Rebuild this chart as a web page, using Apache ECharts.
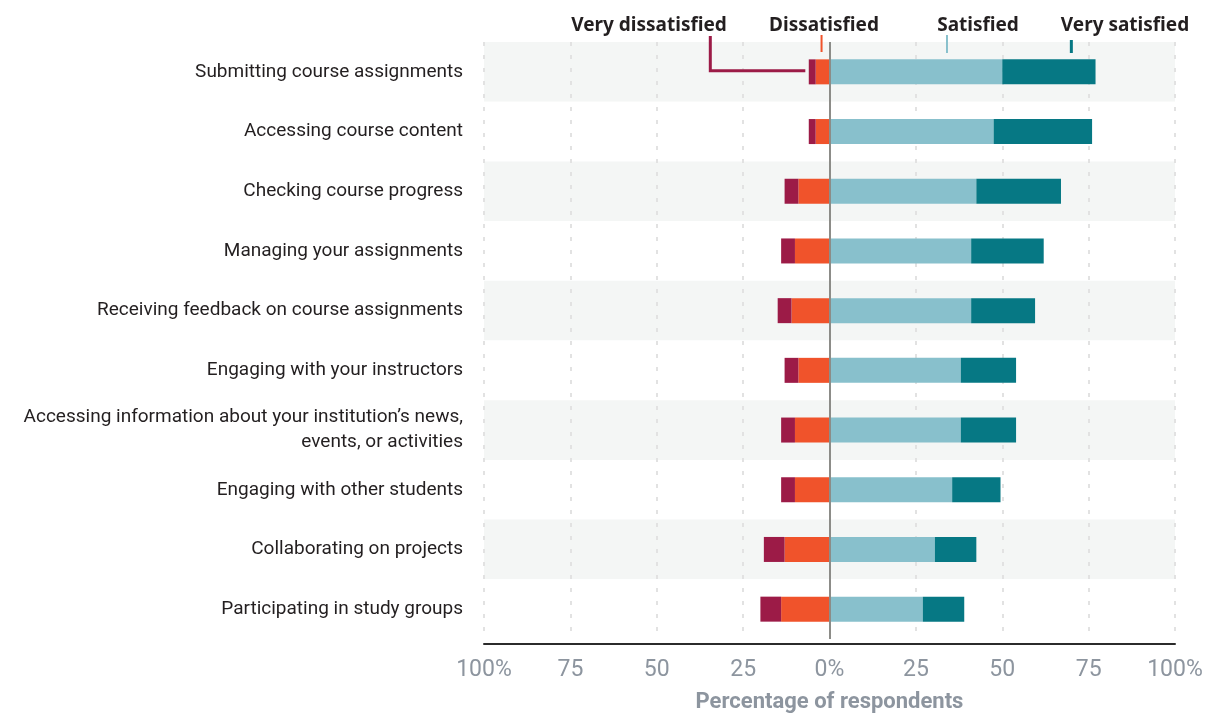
<!DOCTYPE html>
<html>
<head>
<meta charset="utf-8">
<script src="https://cdn.jsdelivr.net/npm/echarts@6/dist/echarts.min.js"></script>
<style>
  html, body { margin: 0; padding: 0; background: #fff; }
  #main { width: 1220px; height: 714px; }
</style>
</head>
<body>
<div id="main"></div>
<script>
'use strict'

// categories, top to bottom
const activities = [
  'Submitting course assignments',
  'Accessing course content',
  'Checking course progress',
  'Managing your assignments',
  'Receiving feedback on course assignments',
  'Engaging with your instructors',
  'Accessing information about your institution\u2019s news,\nevents, or activities',
  'Engaging with other students',
  'Collaborating on projects',
  'Participating in study groups'
];

// percentages
const veryDissatisfied = [2, 2, 4, 4, 4, 4, 4, 4, 6, 6];
const dissatisfied     = [4, 4, 9, 10, 11, 9, 10, 10, 13, 14];
const satisfied        = [50, 47.5, 42.5, 41, 41, 38, 38, 35.5, 30.5, 27];
const verySatisfied    = [27, 28.5, 24.5, 21, 18.5, 16, 16, 14, 12, 12];

const xTicks = [-100, -75, -50, -25, 0, 25, 50, 75, 100];

// legend names and where their labels sit
const legendNames = ['Very dissatisfied', 'Dissatisfied', 'Satisfied', 'Very satisfied'];
const legendCenters = [649, 824, 978, 1125];

const colors = {
  veryDissatisfied: '#9c1b47',
  dissatisfied: '#f0532b',
  satisfied: '#88c0cc',
  verySatisfied: '#067884'
};

const labelFont = 'Roboto, "Noto Sans", sans-serif';

var myChart = echarts.init(document.getElementById('main'));

function negate(arr) {
  return arr.map(v => -v);
}

function barSeries(name, data, color) {
  return {
    name: name,
    type: 'bar',
    stack: 'total',
    barWidth: 25,
    data: data,
    itemStyle: { color: color },
    silent: true
  };
}

var option = {
  animation: false,
  backgroundColor: '#ffffff',
  grid: {
    left: 484,
    right: 45,
    top: 42,
    bottom: 75,
    containLabel: false,
    outerBoundsMode: 'none'
  },
  xAxis: {
    type: 'value',
    min: -100,
    max: 100,
    interval: 25,
    offset: 5,
    axisLine: { show: true, lineStyle: { color: '#2b2b2b', width: 2 } },
    axisTick: { show: false },
    splitLine: {
      show: true,
      lineStyle: { color: '#e2e2e2', width: 2, type: [4, 9] }
    },
    axisLabel: {
      margin: 15,
      fontSize: 23,
      color: '#8d959f',
      fontFamily: labelFont,
      formatter: function (v) {
        if (xTicks.indexOf(v) < 0) return '';
        let a = Math.abs(v);
        return (a === 0 || a === 100) ? a + '%' : String(a);
      }
    },
    name: 'Percentage of respondents',
    nameLocation: 'middle',
    nameGap: 47,
    nameTextStyle: {
      fontSize: 22,
      fontWeight: 'bold',
      color: '#8d959f',
      fontFamily: labelFont
    }
  },
  yAxis: {
    type: 'category',
    inverse: true,
    data: activities,
    axisLine: { show: false },
    axisTick: { show: false },
    splitArea: {
      show: true,
      areaStyle: { color: ['#f4f6f5', '#ffffff'] }
    },
    axisLabel: {
      margin: 21,
      fontSize: 19,
      lineHeight: 25,
      color: '#231f20',
      fontFamily: labelFont
    }
  },
  series: [
    barSeries('Dissatisfied', negate(dissatisfied), colors.dissatisfied),
    barSeries('Very dissatisfied', negate(veryDissatisfied), colors.veryDissatisfied),
    barSeries('Satisfied', satisfied, colors.satisfied),
    barSeries('Very satisfied', verySatisfied, colors.verySatisfied),
    {
      // zero line
      type: 'line',
      data: [],
      silent: true,
      markLine: {
        symbol: ['none', 'none'],
        label: { show: false },
        lineStyle: { color: '#8c8c88', width: 2, type: 'solid' },
        data: [{ xAxis: 0 }]
      }
    }
  ]
};

myChart.setOption(option);

// legend labels drawn above the first row
function px(value) {
  return myChart.convertToPixel({ gridIndex: 0 }, [value, activities[0]]);
}

let rowY = px(0)[1];
let legendFont = 'bold 19px "Noto Sans", sans-serif';
let vdCorner = px(-34.5)[0];
let vdEnd = px(-7)[0];
let dTick = px(-2.3)[0];
let sTick = px(34)[0];
let vsTick = px(70)[0];

let graphics = legendNames.map((name, i) => ({
  type: 'text',
  x: legendCenters[i],
  y: 26,
  style: {
    text: name,
    font: legendFont,
    fill: '#231f20',
    align: 'center',
    verticalAlign: 'middle'
  }
}));

graphics.push(
  {
    type: 'polyline',
    shape: { points: [[vdCorner, 36], [vdCorner, rowY - 1], [vdEnd, rowY - 1]] },
    style: { stroke: colors.veryDissatisfied, lineWidth: 3, fill: null }
  },
  { type: 'line', shape: { x1: dTick, y1: 35, x2: dTick, y2: 52 }, style: { stroke: colors.dissatisfied, lineWidth: 2 } },
  { type: 'line', shape: { x1: sTick, y1: 35, x2: sTick, y2: 53 }, style: { stroke: colors.satisfied, lineWidth: 2 } },
  { type: 'line', shape: { x1: vsTick, y1: 40, x2: vsTick, y2: 53 }, style: { stroke: colors.verySatisfied, lineWidth: 3 } }
);

myChart.setOption({ graphic: graphics });
</script>
</body>
</html>
